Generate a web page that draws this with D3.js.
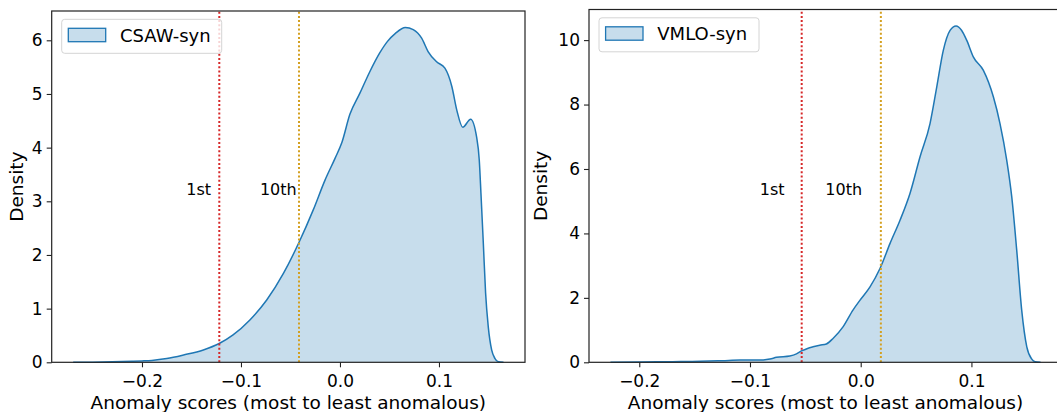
<!DOCTYPE html>
<html>
<head>
<meta charset="utf-8">
<script src="https://cdn.jsdelivr.net/npm/d3@7"></script>
<style>
  html, body { margin: 0; padding: 0; background: #fff; }
  svg { display: block; font-family: "DejaVu Sans", sans-serif; }
</style>
</head>
<body>
<svg id="chart" width="1057" height="412"></svg>
<script>
// ---------- DATA ----------
const csawX = [-0.2695, -0.25, -0.23, -0.21, -0.2, -0.19, -0.175, -0.158, -0.138, -0.122, -0.108, -0.091, -0.074, -0.057, -0.041, -0.027, -0.015, -0.005, 0.002, 0.010, 0.020, 0.030, 0.040, 0.048, 0.056, 0.066, 0.074, 0.0825, 0.089, 0.0976, 0.106, 0.113, 0.118, 0.124, 0.132, 0.138, 0.1407, 0.1424, 0.1448, 0.1471, 0.1498, 0.1532, 0.1566, 0.160, 0.1652];
const csawY = [0, 0.002, 0.008, 0.018, 0.025, 0.035, 0.07, 0.136, 0.23, 0.35, 0.51, 0.79, 1.16, 1.66, 2.25, 2.84, 3.40, 3.80, 4.10, 4.62, 5.01, 5.41, 5.76, 5.98, 6.13, 6.24, 6.20, 6.04, 5.79, 5.60, 5.48, 5.14, 4.70, 4.38, 4.53, 4.20, 3.77, 3.15, 2.22, 1.29, 0.66, 0.23, 0.07, 0.01, 0];

const vmloX = [-0.226, -0.20, -0.17, -0.145, -0.125, -0.109, -0.095, -0.088, -0.082, -0.076, -0.064, -0.058, -0.053, -0.048, -0.043, -0.037, -0.031, -0.025, -0.016, -0.007, -0.0006, 0.0084, 0.0174, 0.0265, 0.0355, 0.0445, 0.0536, 0.0626, 0.0687, 0.0746, 0.0807, 0.0861, 0.0912, 0.0958, 0.1017, 0.1108, 0.1198, 0.1258, 0.1319, 0.1364, 0.1409, 0.1454, 0.150, 0.1545, 0.1575, 0.1624];
const vmloY = [0, 0.01, 0.02, 0.03, 0.05, 0.07, 0.07, 0.075, 0.10, 0.155, 0.195, 0.26, 0.36, 0.43, 0.48, 0.53, 0.57, 0.74, 1.10, 1.62, 1.93, 2.34, 2.91, 3.69, 4.41, 5.24, 6.38, 7.41, 8.55, 9.68, 10.30, 10.44, 10.30, 9.99, 9.48, 9.06, 8.24, 7.41, 6.27, 5.14, 3.48, 1.62, 0.48, 0.10, 0.02, 0];

const seriesNames = ["CSAW-syn", "VMLO-syn"];
const percentileLabels = ["1st", "10th"];
const csawPercentiles = [-0.1219, -0.0414];
const vmloPercentiles = [-0.0533, 0.0182];
const csawLabelX = [-0.1427, -0.0623];
const vmloLabelX = [-0.0799, -0.0154];
const csawLabelY = 3.117;
const vmloLabelY = 5.19;

const xTicks = [-0.2, -0.1, 0.0, 0.1];
const csawYTicks = [0, 1, 2, 3, 4, 5, 6];
const vmloYTicks = [0, 2, 4, 6, 8, 10];
const xLabel = "Anomaly scores (most to least anomalous)";
const yLabel = "Density";

// ---------- STYLE ----------
const TICK_FS = 17;
const LABEL_FS = 18.5;
const LEGEND_FS = 18;
const lineColor = "#1f77b4";
const fillColor = "rgba(31,119,180,0.25)";
const pctColors = ["#d62728", "#d4a020"];

const svg = d3.select("#chart");

function panel(cfg) {
  const x = d3.scaleLinear().domain(cfg.xDomain).range([cfg.left, cfg.right]);
  const y = d3.scaleLinear().domain(cfg.yDomain).range([cfg.bottom, cfg.top]);
  const g = svg.append("g");
  const pts = cfg.xs.map((v, i) => [v, cfg.ys[i]]);

  g.append("path")
    .datum(pts)
    .attr("fill", fillColor)
    .attr("stroke", "none")
    .attr("d", d3.area().x(d => x(d[0])).y0(y(0)).y1(d => y(d[1])).curve(d3.curveMonotoneX));
  g.append("path")
    .datum(pts)
    .attr("fill", "none")
    .attr("stroke", lineColor)
    .attr("stroke-width", 1.5)
    .attr("d", d3.line().x(d => x(d[0])).y(d => y(d[1])).curve(d3.curveMonotoneX));

  cfg.pcts.forEach((p, i) => {
    g.append("line")
      .attr("x1", x(p)).attr("x2", x(p))
      .attr("y1", y(cfg.yDomain[0])).attr("y2", y(cfg.yDomain[1]))
      .attr("stroke", pctColors[i])
      .attr("stroke-width", 2)
      .attr("stroke-dasharray", "2,2.2");
    g.append("text")
      .attr("x", x(cfg.labelX[i]))
      .attr("y", y(cfg.labelY))
      .attr("text-anchor", "middle")
      .attr("font-size", 16)
      .attr("fill", "#000")
      .text(percentileLabels[i]);
  });

  const xa = g.append("g")
    .attr("transform", `translate(0,${cfg.bottom})`)
    .call(d3.axisBottom(x).tickValues(xTicks).tickSize(5).tickSizeOuter(0).tickPadding(7.3)
      .tickFormat(d => d3.format(".1f")(d).replace("-", "\u2212")));
  const ya = g.append("g")
    .attr("transform", `translate(${cfg.left},0)`)
    .call(d3.axisLeft(y).tickValues(cfg.yTicks).tickSize(5).tickSizeOuter(0).tickPadding(4)
      .tickFormat(d3.format("d")));
  [xa, ya].forEach(a => {
    a.select(".domain").remove();
    a.selectAll("text").attr("font-size", TICK_FS).attr("fill", "#000").attr("font-family", "DejaVu Sans");
    a.selectAll("line").attr("stroke", "#222").attr("stroke-width", 1.1);
  });

  g.append("rect")
    .attr("x", cfg.left).attr("y", cfg.top)
    .attr("width", cfg.right - cfg.left).attr("height", cfg.bottom - cfg.top)
    .attr("fill", "none").attr("stroke", "#222").attr("stroke-width", 1.2);

  g.append("text")
    .attr("x", (cfg.left + cfg.right) / 2).attr("y", 408.5)
    .attr("text-anchor", "middle").attr("font-size", LABEL_FS).attr("fill", "#000")
    .text(xLabel);
  g.append("text")
    .attr("transform", `translate(${cfg.ylabX},${(cfg.top + cfg.bottom) / 2}) rotate(-90)`)
    .attr("text-anchor", "middle").attr("font-size", LABEL_FS).attr("fill", "#000")
    .text(yLabel);

  const lg = g.append("g").attr("transform", `translate(${cfg.left + 10},${cfg.top + 8.3})`);
  lg.append("rect")
    .attr("x", 0).attr("y", 0).attr("width", cfg.legendW).attr("height", 34).attr("rx", 3)
    .attr("fill", "#fff").attr("fill-opacity", 0.8)
    .attr("stroke", "#d4d4d4").attr("stroke-width", 1);
  lg.append("rect")
    .attr("x", 6.6).attr("y", 9).attr("width", 37.4).attr("height", 13.4)
    .attr("fill", fillColor).attr("stroke", lineColor).attr("stroke-width", 1.3);
  lg.append("text")
    .attr("x", 58.3).attr("y", 22.4)
    .attr("font-size", LEGEND_FS).attr("fill", "#000")
    .text(cfg.name);
}

panel({
  name: seriesNames[0], xs: csawX, ys: csawY,
  xDomain: [-0.2912, 0.1869], yDomain: [0, 6.546],
  left: 51.7, right: 525, top: 11, bottom: 362.3,
  pcts: csawPercentiles, labelX: csawLabelX, labelY: csawLabelY,
  yTicks: csawYTicks, ylabX: 22.5, legendW: 160
});
panel({
  name: seriesNames[1], xs: vmloX, ys: vmloY,
  xDomain: [-0.2454, 0.1818], yDomain: [0, 10.95],
  left: 589, right: 1062, top: 9.5, bottom: 362.3,
  pcts: vmloPercentiles, labelX: vmloLabelX, labelY: vmloLabelY,
  yTicks: vmloYTicks, ylabX: 547, legendW: 160
});
</script>
</body>
</html>
